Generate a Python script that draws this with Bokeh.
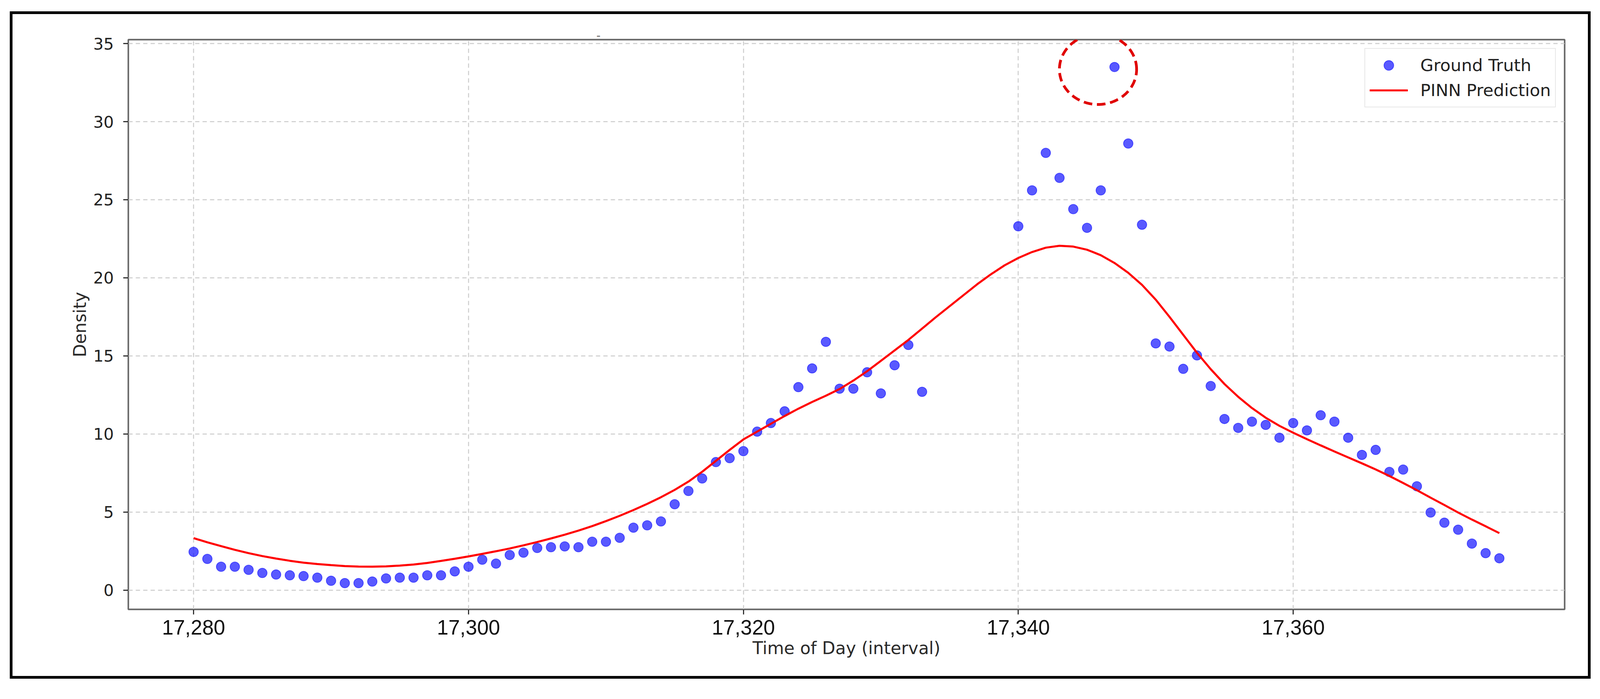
import numpy as np
from bokeh.plotting import figure
from bokeh.models import (ColumnDataSource, FixedTicker, NumeralTickFormatter, Legend,
                          LegendItem, PolyAnnotation)
from bokeh.embed import file_html
from bokeh.resources import INLINE

# ---------------- data ----------------
gt_time = list(range(17280, 17334)) + list(range(17340, 17376))
gt_density = [
    2.45, 2.0, 1.5, 1.5, 1.3, 1.1, 1.0, 0.95, 0.9, 0.8,
    0.6, 0.45, 0.45, 0.55, 0.75, 0.8, 0.8, 0.95, 0.95, 1.2,
    1.5, 1.95, 1.7, 2.25, 2.4, 2.7, 2.75, 2.8, 2.75, 3.1,
    3.1, 3.35, 4.0, 4.15, 4.4, 5.5, 6.35, 7.15, 8.2, 8.45,
    8.9, 10.15, 10.7, 11.45, 13.0, 14.2, 15.9, 12.9, 12.9, 13.95,
    12.6, 14.4, 15.7, 12.7,
    23.3, 25.6, 28.0, 26.4, 24.4, 23.2, 25.6, 33.5, 28.6, 23.4,
    15.8, 15.6, 14.17, 15.03, 13.07, 10.96, 10.39, 10.79, 10.58, 9.76,
    10.7, 10.23, 11.2, 10.79, 9.76, 8.66, 8.98, 7.57, 7.72, 6.65,
    4.97, 4.32, 3.87, 2.98, 2.37, 2.04,
]
pinn_time = list(range(17280, 17376))
pinn_density = [
    3.33, 3.06, 2.82, 2.58, 2.37, 2.18, 2.02, 1.88, 1.76, 1.67,
    1.60, 1.54, 1.51, 1.50, 1.52, 1.57, 1.64, 1.74, 1.87, 2.01,
    2.16, 2.32, 2.49, 2.67, 2.87, 3.08, 3.31, 3.55, 3.81, 4.10,
    4.42, 4.76, 5.13, 5.52, 5.95, 6.42, 6.95, 7.58, 8.28, 8.98,
    9.65, 10.15, 10.65, 11.15, 11.62, 12.05, 12.45, 12.88, 13.42, 14.02,
    14.68, 15.35, 16.02, 16.75, 17.48, 18.18, 18.88, 19.58, 20.22, 20.8,
    21.27, 21.65, 21.93, 22.05, 22.0, 21.8, 21.45, 20.95, 20.32, 19.55,
    18.6, 17.5, 16.35, 15.2, 14.15, 13.2, 12.38, 11.66, 11.04, 10.52,
    10.08, 9.67, 9.27, 8.88, 8.5, 8.12, 7.73, 7.31, 6.86, 6.4,
    5.92, 5.45, 4.97, 4.52, 4.09, 3.65,
]
x_ticks = [17280, 17300, 17320, 17340, 17360]
y_ticks = [0, 5, 10, 15, 20, 25, 30, 35]
series_names = ["Ground Truth", "PINN Prediction"]
x_label = "Time of Day (interval)"
y_label = "Density"
stray_title = "-"

# ---------------- layout (sizes given in screenshot px, converted to CSS px) ----------------
F = 1.0122                      # screenshot px per CSS px (measured)


def css(v):
    return v / F


def fpx(v):
    return f"{css(v):.1f}px"


FW, FH = round(css(3722)), round(css(1477))       # plot frame
ML, MR = round(css(299.5)), round(css(61))
MT, MB = round(css(66)), round(css(173))
MARGIN_LEFT = css(27.5) - 8 + 6
MARGIN_TOP = css(30) - 8 + 7

all_y = gt_density + pinn_density
xmin, xmax = min(gt_time + pinn_time), max(gt_time + pinn_time)
ymin, ymax = min(all_y), max(all_y)
xpad = 0.05 * (xmax - xmin)
ypad = 0.05 * (ymax - ymin)
x0, x1 = xmin - xpad, xmax + xpad
y0, y1 = ymin - ypad - 0.03, ymax + ypad + 0.1

p = figure(frame_width=FW, frame_height=FH, output_backend="svg", toolbar_location=None,
           x_range=(x0, x1), y_range=(y0, y1),
           min_border_left=ML, min_border_right=MR, min_border_top=MT, min_border_bottom=MB,
           background_fill_color="white", border_fill_color="white")

# outer black frame around the whole picture
p.styles = {"border": "7px solid black",
            "margin-left": f"{MARGIN_LEFT:.2f}px",
            "margin-top": f"{MARGIN_TOP:.2f}px"}

# stray dash above the axes (kept as a tiny title)
p.title.text = stray_title
p.title.align = "left"
p.title.offset = css(1547) - (8 + css(27.5) - 8 + 7 + ML)
p.title.standoff = 2
p.title.text_font = "DejaVu Sans"
p.title.text_font_size = fpx(30)
p.title.text_font_style = "normal"
p.title.text_color = "#666666"

p.outline_line_color = "#666666"
p.outline_line_width = css(4)

# grids
for g in (p.xgrid, p.ygrid):
    g.grid_line_color = "#cccccc"
    g.grid_line_dash = "11 8"
    g.grid_line_width = css(2.5)

# axes
p.xaxis.ticker = FixedTicker(ticks=x_ticks)
p.xaxis.formatter = NumeralTickFormatter(format="0,0")
p.yaxis.ticker = FixedTicker(ticks=y_ticks)
for ax in (p.xaxis, p.yaxis):
    ax.axis_line_color = None
    ax.major_tick_line_color = "#333333"
    ax.major_tick_line_width = css(3)
    ax.major_tick_in = 0
    ax.major_tick_out = 13
    ax.minor_tick_line_color = None
    ax.axis_label_text_font = "DejaVu Sans"
    ax.axis_label_text_font_style = "normal"
    ax.axis_label_text_font_size = fpx(44.5)
    ax.axis_label_text_color = "#2a2a2a"

p.xaxis.major_label_text_font = "Liberation Sans"
p.xaxis.major_label_text_font_size = fpx(53.5)
p.xaxis.major_label_text_color = "#111111"
p.xaxis.major_label_standoff = 14
p.xaxis.axis_label = x_label
p.xaxis.axis_label_standoff = 6

p.yaxis.major_label_text_font = "DejaVu Sans"
p.yaxis.major_label_text_font_size = fpx(42)
p.yaxis.major_label_text_color = "#222222"
p.yaxis.major_label_standoff = 24
p.yaxis.axis_label = y_label
p.yaxis.axis_label_standoff = 6

# ---------------- glyphs ----------------
src_gt = ColumnDataSource(dict(x=gt_time, y=gt_density))
src_pinn = ColumnDataSource(dict(x=pinn_time, y=pinn_density))

r_gt = p.scatter(x="x", y="y", source=src_gt, marker="circle", size=css(24.5),
                 fill_color="#0000ff", fill_alpha=0.65,
                 line_color="#0000ff", line_alpha=0.6, line_width=css(1.8))
r_pinn = p.line(x="x", y="y", source=src_pinn, line_color="#ff0000", line_width=css(5.3))

# dashed red circle highlighting the maximum ground-truth point
k = int(np.argmax(gt_density))
px_per_x = FW / (x1 - x0)
px_per_y = FH / (y1 - y0)
cx = gt_time[k] - 1.2
cy = gt_density[k] - 0.15
t = np.linspace(0, 2 * np.pi, 160)
rx, ry = css(100) / px_per_x, css(91) / px_per_y
circ = PolyAnnotation(xs=list(cx + rx * np.cos(t)), ys=list(cy + ry * np.sin(t)),
                      xs_units="data", ys_units="data",
                      fill_alpha=0, line_color="#e00000", line_alpha=1.0,
                      line_width=css(7), line_dash="22 12")
p.add_layout(circ)

# ---------------- legend ----------------
legend = Legend(items=[LegendItem(label=series_names[0], renderers=[r_gt]),
                       LegendItem(label=series_names[1], renderers=[r_pinn])],
                location="top_right")
legend.margin = 22
legend.padding = 11
legend.spacing = 2
legend.glyph_width = 98
legend.glyph_height = 62
legend.label_height = 62
legend.label_standoff = 32
legend.label_text_font = "DejaVu Sans"
legend.label_text_font_size = fpx(44)
legend.label_text_color = "#222222"
legend.border_line_color = "#d0d0d0"
legend.border_line_width = css(2.5)
legend.background_fill_color = "white"
legend.background_fill_alpha = 0.8
p.add_layout(legend)

open("out.html", "w").write(file_html(p, INLINE))
